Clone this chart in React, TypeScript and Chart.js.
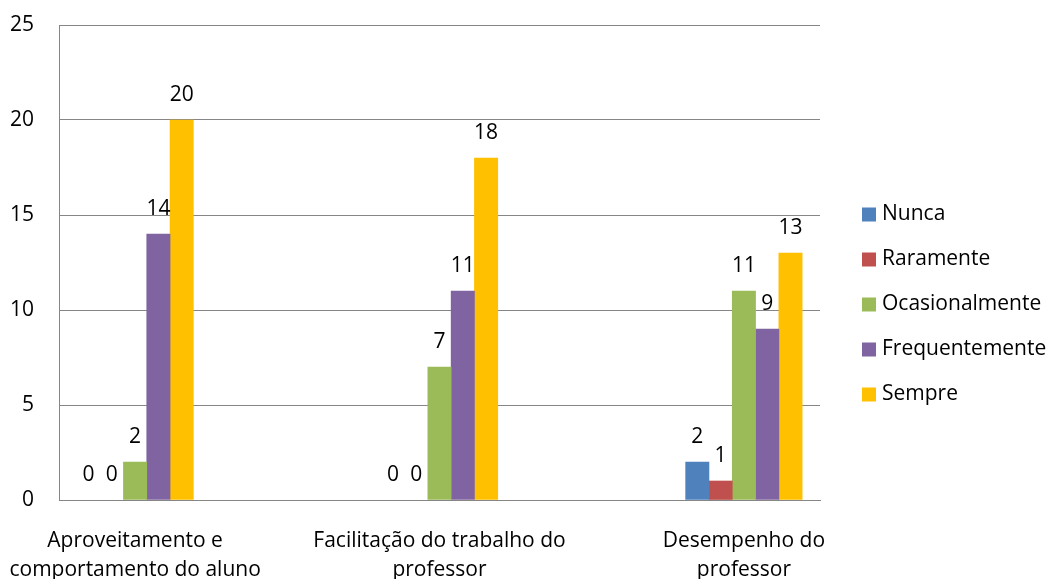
import React, { useEffect, useRef } from 'react';
import { Chart, registerables } from 'chart.js';

Chart.register(...registerables);

const categories: string[][] = [
  ['Aproveitamento e', 'comportamento do aluno'],
  ['Facilitação do trabalho do', 'professor'],
  ['Desempenho do', 'professor'],
];
const seriesNames = ['Nunca', 'Raramente', 'Ocasionalmente', 'Frequentemente', 'Sempre'];
const nunca = [0, 0, 2];
const raramente = [0, 0, 1];
const ocasionalmente = [2, 7, 11];
const frequentemente = [14, 11, 9];
const sempre = [20, 18, 13];
const seriesValues = [nunca, raramente, ocasionalmente, frequentemente, sempre];
const seriesColors = ['#4F81BD', '#C0504D', '#9BBB59', '#8064A2', '#FFC000'];
const yTicks = [0, 5, 10, 15, 20, 25];

const FONT_FAMILY = '"Open Sans", sans-serif';
const FONT_SIZE = 21;
const GRID = '#868686';

const valueLabels = {
  id: 'valueLabels',
  afterDatasetsDraw(chart: any) {
    const ctx = chart.ctx;
    ctx.save();
    ctx.font = `${FONT_SIZE}px ${FONT_FAMILY}`;
    ctx.fillStyle = '#000';
    ctx.textAlign = 'center';
    ctx.textBaseline = 'middle';
    chart.data.datasets.forEach((ds: any, di: number) => {
      const meta = chart.getDatasetMeta(di);
      meta.data.forEach((bar: any, i: number) => {
        const v = ds.data[i].y;
        ctx.fillText(String(v), bar.x, bar.y - 25);
      });
    });
    ctx.restore();
  },
};

const customLegend = {
  id: 'customLegend',
  afterDraw(chart: any) {
    const ctx = chart.ctx;
    ctx.save();
    ctx.font = `${FONT_SIZE}px ${FONT_FAMILY}`;
    ctx.textAlign = 'left';
    ctx.textBaseline = 'middle';
    const x0 = 862;
    const yStart = 214.5;
    const step = 45;
    seriesNames.forEach((name, i) => {
      const cy = yStart + i * step;
      ctx.fillStyle = seriesColors[i];
      ctx.fillRect(x0, cy - 7, 14, 14);
      ctx.fillStyle = '#000';
      ctx.fillText(name, x0 + 20, cy);
    });
    ctx.restore();
  },
};

export default function App() {
  const ref = useRef<HTMLCanvasElement | null>(null);
  useEffect(() => {
    document.body.style.margin = '0';
    if (!ref.current) return;
    const font = { family: FONT_FAMILY, size: FONT_SIZE, lineHeight: 1.35 };
    const chart = new Chart(ref.current, {
      type: 'bar',
      data: {
        datasets: seriesNames.map((name, di) => ({
          label: name,
          data: seriesValues[di].map((v, i) => ({ x: i, y: v })),
          backgroundColor: (c: any) =>
            c.raw && c.raw.y === 0 ? 'rgba(0,0,0,0)' : seriesColors[di],
          borderWidth: 0,
          barThickness: 23.3,
        })),
      },
      options: {
        animation: false,
        responsive: false,
        maintainAspectRatio: false,
        layout: { padding: { left: 0, right: 228, top: 25, bottom: 0 } },
        plugins: {
          legend: { display: false },
          tooltip: { enabled: false },
        },
        scales: {
          x: {
            type: 'linear',
            offset: false,
            min: -0.25,
            max: 2.25,
            afterBuildTicks: (s: any) => {
              s.ticks = categories.map((_, i) => ({ value: i }));
            },
            afterFit: (s: any) => {
              s.height = 79;
              s.paddingLeft = 0;
              s.paddingRight = 0;
              s.paddingTop = 0;
              s.paddingBottom = 0;
            },
            ticks: {
              callback: (v: any) => categories[v as number],
              font,
              color: '#000',
              padding: 27,
              maxRotation: 0,
              autoSkip: false,
            },
            grid: { display: false, drawTicks: false },
            border: { color: GRID, width: 1 },
          },
          y: {
            min: 0,
            max: 25,
            afterBuildTicks: (s: any) => {
              s.ticks = yTicks.map((v) => ({ value: v }));
            },
            afterFit: (s: any) => {
              s.width = 59;
              s.paddingLeft = 0;
              s.paddingRight = 0;
              s.paddingTop = 0;
              s.paddingBottom = 0;
            },
            ticks: { font, color: '#000', padding: 25 },
            grid: { color: GRID, drawTicks: false, lineWidth: 1 },
            border: { color: GRID, width: 1 },
          },
        },
      },
      plugins: [valueLabels, customLegend],
    } as any);
    return () => chart.destroy();
  }, []);
  return (
    <div style={{ width: 1048, height: 579 }}>
      <canvas ref={ref} width={1048} height={579} style={{ display: 'block' }} />
    </div>
  );
}
